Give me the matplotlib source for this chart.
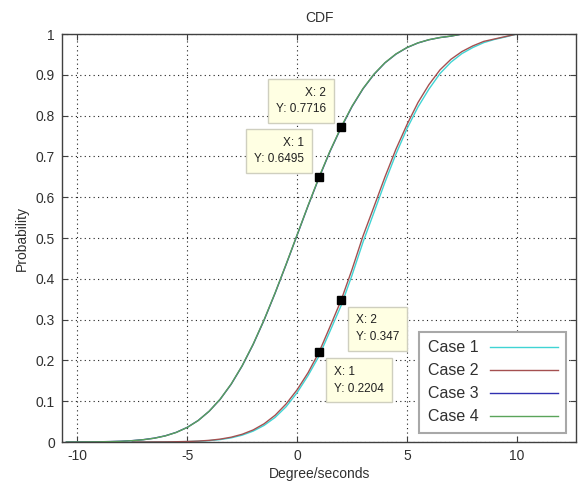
import numpy as np
import matplotlib
matplotlib.use('Agg')
import matplotlib.pyplot as plt

# empirical CDF curves, sampled every 0.5 deg/s
x_left = np.arange(-10.5, 7.51, 0.5)
case3 = [0.0, 0.0002, 0.0003, 0.0006, 0.0011, 0.0019, 0.0034, 0.0058, 0.0095,
         0.0152, 0.0237, 0.0359, 0.0528, 0.0755, 0.1048, 0.1417, 0.1865,
         0.2392, 0.2991, 0.365, 0.435, 0.507, 0.579, 0.648, 0.7126, 0.7702,
         0.8222, 0.8658, 0.9012, 0.9294, 0.9508, 0.9667, 0.9781, 0.986,
         0.9913, 0.9948, 1.0]
case4 = [0.0, 0.0001, 0.0003, 0.0005, 0.001, 0.0018, 0.0033, 0.0056, 0.0093,
         0.015, 0.0235, 0.0357, 0.0527, 0.0756, 0.1051, 0.1422, 0.1871,
         0.2399, 0.2999, 0.3658, 0.4358, 0.5078, 0.5798, 0.6495, 0.7136,
         0.7716, 0.8232, 0.8665, 0.9018, 0.9298, 0.9512, 0.9669, 0.9783,
         0.9861, 0.9914, 0.9949, 1.0]

x_right = np.arange(-7.5, 10.01, 0.5)
case1 = [0.0, 0.0, 0.0001, 0.0002, 0.0005, 0.001, 0.0019, 0.0034, 0.006,
         0.0102, 0.0168, 0.0267, 0.0408, 0.0603, 0.0866, 0.121, 0.163, 0.211,
         0.272, 0.334, 0.409, 0.49, 0.563, 0.637, 0.706, 0.768, 0.821, 0.865,
         0.903, 0.931, 0.952, 0.967, 0.979, 0.987, 0.993, 1.0]
case2 = [0.0, 0.0, 0.0002, 0.0003, 0.0007, 0.0013, 0.0023, 0.0041, 0.0071,
         0.0118, 0.019, 0.0296, 0.0448, 0.0656, 0.0933, 0.128, 0.17, 0.2204,
         0.283, 0.347, 0.423, 0.505, 0.577, 0.65, 0.718, 0.778, 0.832, 0.876,
         0.912, 0.938, 0.957, 0.971, 0.982, 0.988, 0.994, 1.0]

labels = ['Case 1', 'Case 2', 'Case 3', 'Case 4']
colors = ['#40d4d4', '#a45050', '#3030b0', '#5aa45a']

xticks = [-10, -5, 0, 5, 10]
yticks = [0, 0.1, 0.2, 0.3, 0.4, 0.5, 0.6, 0.7, 0.8, 0.9, 1]
yticklabels = ['0', '0.1', '0.2', '0.3', '0.4', '0.5', '0.6', '0.7', '0.8', '0.9', '1']

# data tips: (series, x value, text side)
tips = [('case4', 1, 'left'), ('case4', 2, 'left'),
        ('case2', 1, 'right'), ('case2', 2, 'right')]

plt.rcParams['font.family'] = ['Liberation Sans', 'DejaVu Sans']
txt = '#303030'

fig = plt.figure(figsize=(5.82, 4.86), dpi=100)
ax = fig.add_axes([0.1065, 0.0905, 0.8835, 0.8395])

series = {'case1': (x_right, case1), 'case2': (x_right, case2),
          'case3': (x_left, case3), 'case4': (x_left, case4)}
for key, lab, col in zip(['case1', 'case2', 'case3', 'case4'], labels, colors):
    xs, ys = series[key]
    ax.plot(xs, ys, color=col, lw=1.0, label=lab)

ax.set_xlim(-10.7, 12.7)
ax.set_ylim(0, 1)
ax.set_xticks(xticks)
ax.set_xticklabels([str(t) for t in xticks])
ax.set_yticks(yticks)
ax.set_yticklabels(yticklabels)
ax.tick_params(direction='in', length=4, width=0.8, top=True, right=True,
               labelsize=10, colors='#404040', labelcolor=txt, pad=5)
for s in ax.spines.values():
    s.set_color('#404040')
    s.set_linewidth(1.0)
ax.grid(True, color='#202020', linestyle=(0, (1, 3)), linewidth=0.8)

ax.set_title('CDF', fontsize=10, color=txt, pad=9)
ax.set_xlabel('Degree/seconds', fontsize=10, color=txt, labelpad=3)
ax.set_ylabel('Probability', fontsize=10, color=txt, labelpad=5)

for key, xv, side in tips:
    xs, ys = series[key]
    yv = ys[list(xs).index(xv)]
    ax.plot(xv, yv, 's', color='black', ms=6, zorder=5)
    s = 'X: %g\nY: %.4g' % (xv, yv)
    if side == 'left':
        off, ha, va = (-15, 12), 'right', 'bottom'
    else:
        off, ha, va = (15, -14), 'left', 'top'
    ax.annotate(s, (xv, yv), xytext=off, textcoords='offset pixels',
                ha=ha, va=va, fontsize=8.5, color='#202020', linespacing=1.5,
                zorder=6,
                bbox=dict(boxstyle='square,pad=0.65', fc='#ffffe3',
                          ec='#cfcfbf', lw=1.0))

leg = ax.legend(loc='lower right', bbox_to_anchor=(0.981, 0.022),
                borderaxespad=0, fancybox=False, markerfirst=False,
                fontsize=11.5, handlelength=4.25, labelspacing=0.5,
                borderpad=0.55, handletextpad=0.7, framealpha=1)
leg.get_frame().set_edgecolor('#a8a8a8')
leg.get_frame().set_linewidth(1.5)
for t in leg.get_texts():
    t.set_color(txt)

fig.savefig('out.png', dpi=100)
